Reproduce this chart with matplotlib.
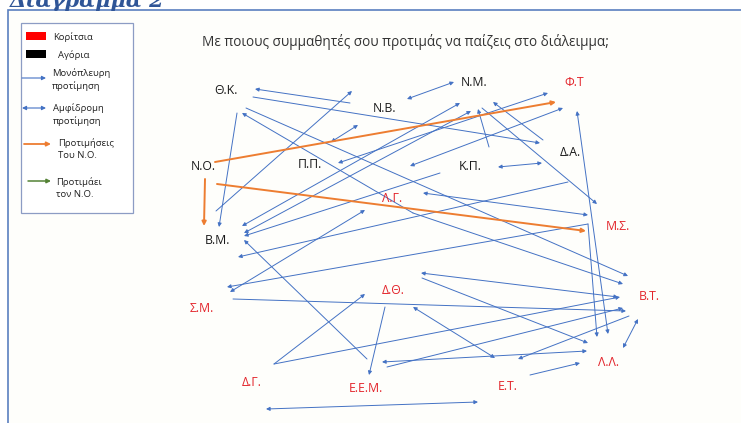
import matplotlib
matplotlib.use("Agg")
import matplotlib.pyplot as plt
from matplotlib.patches import Rectangle

FONT = ['Open Sans', 'DejaVu Sans']
BLUE = '#4472C4'
ORANGE = '#ED7D31'
GREEN = '#548235'
RED = '#E3242B'
BLACK = '#1a1a1a'

# ---- data ----
title = 'Με ποιους συμμαθητές σου προτιμάς να παίζεις στο διάλειμμα;'
node_names = ['Θ.Κ.', 'Ν.Β.', 'Ν.Μ.', 'Φ.Τ', 'Π.Π.', 'Κ.Π.', 'Δ.Α.', 'Ν.Ο.', 'Λ.Γ.',
              'Μ.Σ.', 'Β.Μ.', 'Σ.Μ.', 'Δ.Θ.', 'Β.Τ.', 'Δ.Γ.', 'Ε.Ε.Μ.', 'Ε.Τ.', 'Λ.Λ.']
node_x = [226, 385, 474, 574, 310, 470, 570, 203, 392, 618, 217, 202, 393, 649, 252, 366, 508, 608]
node_y = [90, 108, 82, 83, 165, 167, 153, 167, 198, 226, 241, 309, 290, 297, 383, 388, 387, 363]
node_girl = [0, 0, 0, 1, 0, 0, 0, 0, 1, 1, 0, 1, 1, 1, 1, 1, 1, 1]

# blue preferences: start x, start y, end x, end y, mutual (1 = arrow both ends)
pref_x0 = [350, 253, 246, 413, 413, 407, 543, 338, 410, 498, 489, 482, 331, 237, 216, 440, 460,
           568, 577, 623, 530, 266, 421, 422, 587, 387, 274, 274, 385, 367, 230, 233, 629, 413, 423,
           471]
pref_y0 = [103, 97, 108, 213, 213, 99, 140, 163, 166, 167, 147, 108, 142, 113, 211, 173, 103,
           182, 111, 348, 375, 409, 273, 278, 351, 367, 364, 364, 307, 359, 292, 299, 316, 307, 193,
           111]
pref_x1 = [255, 540, 628, 242, 623, 454, 493, 548, 563, 542, 478, 597, 358, 219, 352, 244, 242,
           238, 608, 638, 580, 478, 618, 588, 382, 623, 365, 620, 369, 244, 365, 626, 518, 495, 588,
           244]
pref_y1 = [89, 143, 276, 113, 284, 82, 102, 93, 108, 163, 109, 204, 125, 227, 91, 236, 226,
           257, 334, 319, 363, 402, 297, 343, 362, 308, 294, 297, 375, 240, 210, 311, 359, 358, 215,
           233]
pref_mutual = [0, 0, 0, 0, 0, 1, 0, 1, 1, 1, 0, 0, 1, 0, 0, 0, 1,
               0, 1, 1, 0, 1, 1, 0, 1, 0, 0, 0, 0, 0, 1, 0, 0, 1, 1,
               1]

# bent connector (Σ.Μ. <-> Λ.Λ.)
bent_x = [227, 588, 597]
bent_y = [287, 224, 337]

# N.O. preferences (orange)
no_x0 = [215, 217, 205]
no_y0 = [162, 184, 179]
no_x1 = [556, 586, 204]
no_y1 = [102, 231, 226]

legend_labels = ['Κορίτσια', 'Αγόρια', 'Μονόπλευρη\nπροτίμηση', 'Αμφίδρομη\nπροτίμηση',
                 'Προτιμήσεις\nΤου Ν.Ο.', 'Προτιμάει\nτον Ν.Ο.']

# ---- figure ----
fig = plt.figure(figsize=(7.41, 4.23), dpi=100)
ax = fig.add_axes([0, 0, 1, 1])
ax.set_xlim(0, 741)
ax.set_ylim(423, 0)
ax.axis('off')

# page frame
ax.add_patch(Rectangle((8, 10), 740, 420, facecolor='#FEFEFB', edgecolor='#5A7FC0', lw=1.2))
ax.text(10, 7, 'Διάγραμμα 2', fontsize=15, fontweight='bold', fontstyle='italic',
        color='#2F5597', family=['DejaVu Serif'], va='baseline', ha='left')

# legend box
ax.add_patch(Rectangle((21, 23), 112, 190, facecolor='white', edgecolor='#8C9CC4', lw=0.9))
ax.add_patch(Rectangle((26, 32), 20, 8, facecolor='#FF0000', edgecolor='none'))
ax.add_patch(Rectangle((26, 50), 20, 8, facecolor='#000000', edgecolor='none'))
lx = [53, 58, 52, 53, 58, 56]
ly = [37, 55, 80, 115, 149, 188]
for lab, x, y in zip(legend_labels, lx, ly):
    ax.text(x, y, lab, fontsize=6.8, family=FONT, color='#222222', va='center', ha='left',
            linespacing=1.4)
ax.annotate('', xy=(46, 78), xytext=(22, 78),
            arrowprops=dict(arrowstyle='-|>', color=BLUE, lw=0.8, mutation_scale=6,
                            shrinkA=0, shrinkB=0))
ax.annotate('', xy=(46, 108), xytext=(22, 108),
            arrowprops=dict(arrowstyle='<|-|>', color=BLUE, lw=0.8, mutation_scale=6,
                            shrinkA=0, shrinkB=0))
ax.annotate('', xy=(51, 144), xytext=(24, 144),
            arrowprops=dict(arrowstyle='-|>', color=ORANGE, lw=1.3, mutation_scale=6,
                            shrinkA=0, shrinkB=0))
ax.annotate('', xy=(51, 181), xytext=(28, 181),
            arrowprops=dict(arrowstyle='-|>', color=GREEN, lw=1.1, mutation_scale=6,
                            shrinkA=0, shrinkB=0))

# question
ax.text(202, 42, title, fontsize=9.8, family=FONT, color='#333333', va='center', ha='left')

# blue preference arrows
for x0, y0, x1, y1, m in zip(pref_x0, pref_y0, pref_x1, pref_y1, pref_mutual):
    ax.annotate('', xy=(x1, y1), xytext=(x0, y0),
                arrowprops=dict(arrowstyle='<|-|>' if m else '-|>', color=BLUE, lw=0.7,
                                mutation_scale=5.5, shrinkA=0, shrinkB=0))
# bent connector
ax.annotate('', xy=(bent_x[0], bent_y[0]), xytext=(bent_x[1], bent_y[1]),
            arrowprops=dict(arrowstyle='-|>', color=BLUE, lw=0.7, mutation_scale=5.5,
                            shrinkA=0, shrinkB=0))
ax.annotate('', xy=(bent_x[2], bent_y[2]), xytext=(bent_x[1], bent_y[1]),
            arrowprops=dict(arrowstyle='-|>', color=BLUE, lw=0.7, mutation_scale=5.5,
                            shrinkA=0, shrinkB=0))

# N.O. preferences
for x0, y0, x1, y1 in zip(no_x0, no_y0, no_x1, no_y1):
    ax.annotate('', xy=(x1, y1), xytext=(x0, y0),
                arrowprops=dict(arrowstyle='-|>', color=ORANGE, lw=1.4, mutation_scale=6,
                                shrinkA=0, shrinkB=0))

# node labels
for name, x, y, g in zip(node_names, node_x, node_y, node_girl):
    ax.text(x, y, name, fontsize=8.8, family=FONT, color=RED if g else BLACK,
            va='center', ha='center')

fig.savefig('out.png', dpi=100)
